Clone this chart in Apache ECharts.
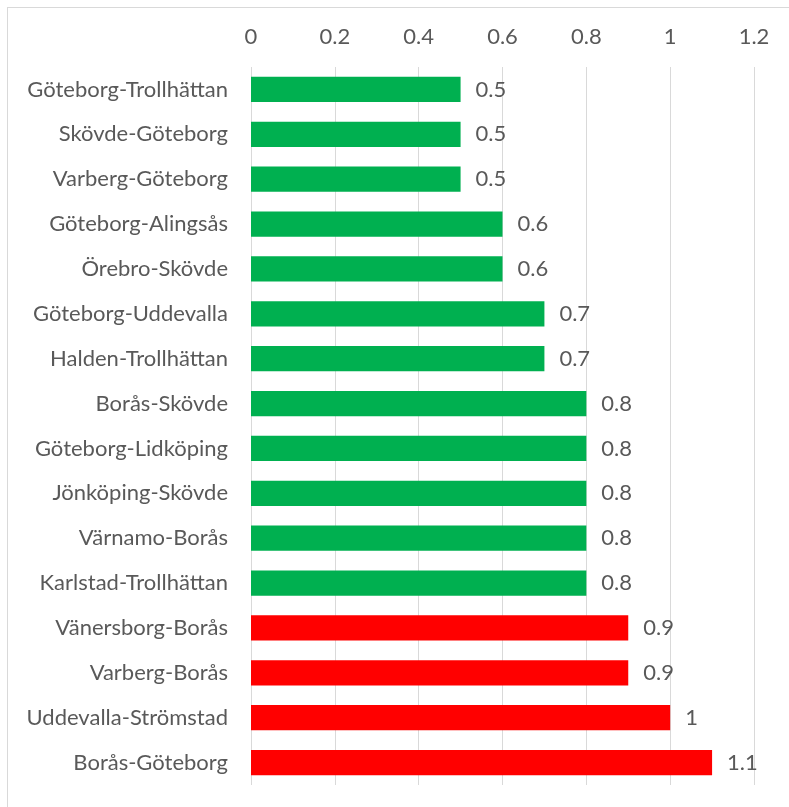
<!DOCTYPE html>
<html>
<head>
<meta charset="utf-8">
<script src="https://cdn.jsdelivr.net/npm/echarts@6/dist/echarts.min.js"></script>
<style>
  html, body { margin: 0; padding: 0; background: #fff; overflow: hidden; }
  #frame { position: absolute; left: 7px; top: 7px; width: 820px; height: 820px;
           border: 1px solid #d9d9d9; box-sizing: border-box; }
  #chart { position: absolute; left: 0; top: 0; width: 789px; height: 807px; }
</style>
</head>
<body>
<div id="frame"></div>
<div id="chart"></div>
<script>
// Routes, top to bottom
const routes = [
  'Göteborg-Trollhättan', 'Skövde-Göteborg', 'Varberg-Göteborg', 'Göteborg-Alingsås',
  'Örebro-Skövde', 'Göteborg-Uddevalla', 'Halden-Trollhättan', 'Borås-Skövde',
  'Göteborg-Lidköping', 'Jönköping-Skövde', 'Värnamo-Borås', 'Karlstad-Trollhättan',
  'Vänersborg-Borås', 'Varberg-Borås', 'Uddevalla-Strömstad', 'Borås-Göteborg'
];
const values = [0.5, 0.5, 0.5, 0.6, 0.6, 0.7, 0.7, 0.8, 0.8, 0.8, 0.8, 0.8, 0.9, 0.9, 1, 1.1];
// Routes at or above this value are drawn in red
const threshold = 0.9;
const axisMin = 0, axisMax = 1.2, axisStep = 0.2;

const textColor = '#595959';
const font = 'Lato, "Open Sans", sans-serif';
const fontSize = 22;

const chart = echarts.init(document.getElementById('chart'));
chart.setOption({
  animation: false,
  grid: { left: 251, right: 35, top: 67, bottom: 22, containLabel: false },
  xAxis: {
    type: 'value', position: 'top', min: axisMin, max: axisMax, interval: axisStep,
    axisLine: { show: false }, axisTick: { show: false },
    axisLabel: { color: textColor, fontSize: fontSize, fontFamily: font, margin: 19 },
    splitLine: { lineStyle: { color: '#d9d9d9', width: 1 } }
  },
  yAxis: {
    type: 'category', inverse: true, data: routes,
    axisLine: { show: false }, axisTick: { show: false },
    axisLabel: { color: textColor, fontSize: fontSize, fontFamily: font, margin: 23 }
  },
  series: [{
    type: 'bar',
    data: values.map(v => ({ value: v, itemStyle: { color: v >= threshold ? '#ff0000' : '#00b050' } })),
    barCategoryGap: '44%',
    label: { show: true, position: 'right', distance: 15, color: textColor, fontSize: fontSize, fontFamily: font }
  }]
});
</script>
</body>
</html>
